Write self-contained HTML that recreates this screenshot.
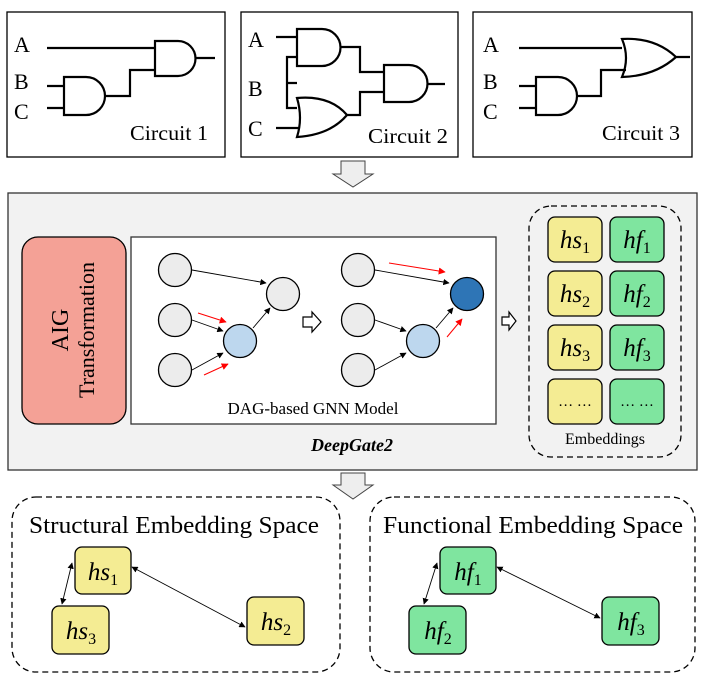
<!DOCTYPE html>
<html><head><meta charset="utf-8"><style>
html,body{margin:0;padding:0;background:#fff;}
svg{display:block;}
text{font-family:"Liberation Serif",serif;}
.m{font-family:"Liberation Serif",serif;font-style:italic;font-size:25px;}
</style></head><body>
<svg width="706" height="681" viewBox="0 0 706 681" xmlns="http://www.w3.org/2000/svg">
<defs>
<marker id="ab" viewBox="0 0 10 10" refX="9" refY="5" markerWidth="7" markerHeight="7" orient="auto-start-reverse"><path d="M0,0L10,5L0,10z" fill="#000"/></marker>
<marker id="ar" viewBox="0 0 10 10" refX="9" refY="5" markerWidth="7" markerHeight="7" orient="auto"><path d="M0,0L10,5L0,10z" fill="#f00"/></marker>
</defs>
<g fill="none" stroke="#000" stroke-width="1.3">
<rect x="7" y="12" width="218" height="145"/>
<rect x="241" y="12" width="217" height="145"/>
<rect x="473" y="12" width="219" height="145"/>
</g>
<g font-size="22" fill="#000">
<text x="14" y="52">A</text><text x="14" y="89">B</text><text x="14" y="119">C</text>
<text x="248" y="47">A</text><text x="248" y="96">B</text><text x="248" y="136">C</text>
<text x="483" y="52">A</text><text x="483" y="89">B</text><text x="483" y="119">C</text>
</g>
<g font-size="21" fill="#000">
<text x="130" y="140" textLength="78" lengthAdjust="spacingAndGlyphs">Circuit 1</text>
<text x="368" y="143" textLength="80" lengthAdjust="spacingAndGlyphs">Circuit 2</text>
<text x="602" y="140" textLength="78" lengthAdjust="spacingAndGlyphs">Circuit 3</text>
</g>
<g fill="none" stroke="#000" stroke-width="2.2">
<path d="M47 48H155M155 41V76H178A17.5 17.5 0 0 0 178 41Z M196 58H215"/>
<path d="M47 86H64M47 108H64M64 77V115H86A19 19 0 0 0 86 77Z M105 96H130V70H155"/>
<path d="M276 37H297M297 29V66H322A18.5 18.5 0 0 0 322 29Z M340 47H360V72H384M384 65V102H409A18.5 18.5 0 0 0 409 65Z M427 84H445"/>
<path d="M287 83H297M287 83V57H297M287 83V108H297"/>
<path d="M297 98Q330 95 347 115Q330 135 297 137Q303 118 297 98Z M347 115H360V92H384M276 128H299"/>
<path d="M519 48H622M622 39Q655 37 676 57Q655 76 622 77Q630 58 622 39Z M676 57H690"/>
<path d="M519 86H536M519 108H536M536 77V115H558A19 19 0 0 0 558 77Z M577 96H601V70H626"/>
</g>
<path d="M341 161H365V174H373L353 187L333 174H341Z" fill="#eee" stroke="#444" stroke-width="1"/>
<rect x="8" y="193" width="689" height="277" fill="#f2f2f2" stroke="#333" stroke-width="1.3"/>
<rect x="22" y="237" width="104" height="187" rx="16" fill="#f4a196" stroke="#000" stroke-width="1.3"/>
<text transform="translate(68 330) rotate(-90)" text-anchor="middle" font-size="24">AIG</text>
<text transform="translate(94 330) rotate(-90)" text-anchor="middle" font-size="22">Transformation</text>
<path d="M135 319H142V314L149 323L142 332V327H135Z" fill="#fff" stroke="#000" stroke-width="1.2"/>
<rect x="131" y="237" width="365" height="187" fill="#fff" stroke="#333" stroke-width="1.3"/>
<text x="313" y="414" text-anchor="middle" font-size="17">DAG-based GNN Model</text>
<path d="M303 317H312V312L321 322L312 332V327H303Z" fill="#fff" stroke="#000" stroke-width="1.2"/>
<path d="M502 317H509V312L516 321L509 330V325H502Z" fill="#fff" stroke="#000" stroke-width="1.2"/>
<g stroke="#000" stroke-width="0.9" fill="none" marker-end="url(#ab)">
<line x1="192" y1="270" x2="266" y2="283"/>
<line x1="192" y1="320" x2="223" y2="331"/>
<line x1="192" y1="370" x2="223" y2="353"/>
<line x1="253" y1="328" x2="270" y2="308"/>
<line x1="375" y1="270" x2="449" y2="283"/>
<line x1="375" y1="320" x2="406" y2="331"/>
<line x1="375" y1="370" x2="406" y2="353"/>
<line x1="436" y1="328" x2="453" y2="308"/>
</g>
<g stroke="#f00" stroke-width="1" marker-end="url(#ar)">
<line x1="198" y1="313" x2="226" y2="322"/>
<line x1="204" y1="375" x2="228" y2="364"/>
<line x1="389" y1="263" x2="445" y2="272"/>
<line x1="447" y1="337" x2="462" y2="319"/>
</g>
<g stroke="#000" stroke-width="1.3">
<circle cx="175" cy="270" r="16.5" fill="#ececec"/>
<circle cx="175" cy="320" r="16.5" fill="#ececec"/>
<circle cx="175" cy="370" r="16.5" fill="#ececec"/>
<circle cx="283" cy="294" r="16.5" fill="#ececec"/>
<circle cx="240" cy="341" r="16.5" fill="#bdd7ee"/>
<circle cx="358" cy="270" r="16.5" fill="#ececec"/>
<circle cx="358" cy="320" r="16.5" fill="#ececec"/>
<circle cx="358" cy="370" r="16.5" fill="#ececec"/>
<circle cx="467" cy="294" r="16.5" fill="#2e75b6"/>
<circle cx="423" cy="341" r="16.5" fill="#bdd7ee"/>
</g>
<text x="352" y="451" text-anchor="middle" font-size="18" font-weight="bold" font-style="italic">DeepGate2</text>
<rect x="529" y="206" width="152" height="251" rx="22" fill="none" stroke="#000" stroke-width="1.3" stroke-dasharray="6 4"/>
<g stroke="#000" stroke-width="1.3">
<rect x="548" y="217" width="54" height="45" rx="7" fill="#f4ec93"/>
<rect x="610" y="217" width="54" height="45" rx="7" fill="#7fe59f"/>
<rect x="548" y="271" width="54" height="45" rx="7" fill="#f4ec93"/>
<rect x="610" y="271" width="54" height="45" rx="7" fill="#7fe59f"/>
<rect x="548" y="325" width="54" height="45" rx="7" fill="#f4ec93"/>
<rect x="610" y="325" width="54" height="45" rx="7" fill="#7fe59f"/>
<rect x="548" y="379" width="54" height="45" rx="7" fill="#f4ec93"/>
<rect x="610" y="379" width="54" height="45" rx="7" fill="#7fe59f"/>
</g>
<g text-anchor="middle">
<text x="575" y="248" class="m">hs<tspan font-size="16" font-style="normal" dy="5">1</tspan></text>
<text x="637" y="248" class="m">hf<tspan font-size="16" font-style="normal" dy="5">1</tspan></text>
<text x="575" y="302" class="m">hs<tspan font-size="16" font-style="normal" dy="5">2</tspan></text>
<text x="637" y="302" class="m">hf<tspan font-size="16" font-style="normal" dy="5">2</tspan></text>
<text x="575" y="356" class="m">hs<tspan font-size="16" font-style="normal" dy="5">3</tspan></text>
<text x="637" y="356" class="m">hf<tspan font-size="16" font-style="normal" dy="5">3</tspan></text>
</g>
<text x="575" y="406" text-anchor="middle" font-size="15">… …</text>
<text x="637" y="406" text-anchor="middle" font-size="15">… …</text>
<text x="605" y="444" text-anchor="middle" font-size="16">Embeddings</text>
<path d="M341 473H365V485H373L353 499L333 485H341Z" fill="#eee" stroke="#444" stroke-width="1"/>
<rect x="12" y="497" width="328" height="175" rx="24" fill="none" stroke="#000" stroke-width="1.3" stroke-dasharray="6 4"/>
<rect x="370" y="497" width="325" height="175" rx="24" fill="none" stroke="#000" stroke-width="1.3" stroke-dasharray="6 4"/>
<text x="174" y="533" text-anchor="middle" font-size="24" textLength="290" lengthAdjust="spacingAndGlyphs">Structural Embedding Space</text>
<text x="533" y="533" text-anchor="middle" font-size="24" textLength="300" lengthAdjust="spacingAndGlyphs">Functional Embedding Space</text>
<g stroke="#000" stroke-width="0.9" marker-start="url(#ab)" marker-end="url(#ab)">
<line x1="72" y1="563" x2="62" y2="604"/>
<line x1="132" y1="567" x2="245" y2="627"/>
<line x1="437" y1="563" x2="424" y2="604"/>
<line x1="497" y1="567" x2="600" y2="618"/>
</g>
<g stroke="#000" stroke-width="1.3">
<rect x="75" y="547" width="56" height="47" rx="7" fill="#f4ec93"/>
<rect x="52" y="606" width="57" height="48" rx="7" fill="#f4ec93"/>
<rect x="247" y="597" width="57" height="48" rx="7" fill="#f4ec93"/>
<rect x="440" y="547" width="56" height="47" rx="7" fill="#7fe59f"/>
<rect x="409" y="606" width="57" height="48" rx="7" fill="#7fe59f"/>
<rect x="602" y="597" width="57" height="48" rx="7" fill="#7fe59f"/>
</g>
<g text-anchor="middle">
<text x="103" y="580" class="m">hs<tspan font-size="16" font-style="normal" dy="5">1</tspan></text>
<text x="81" y="639" class="m">hs<tspan font-size="16" font-style="normal" dy="5">3</tspan></text>
<text x="276" y="630" class="m">hs<tspan font-size="16" font-style="normal" dy="5">2</tspan></text>
<text x="468" y="580" class="m">hf<tspan font-size="16" font-style="normal" dy="5">1</tspan></text>
<text x="438" y="639" class="m">hf<tspan font-size="16" font-style="normal" dy="5">2</tspan></text>
<text x="631" y="630" class="m">hf<tspan font-size="16" font-style="normal" dy="5">3</tspan></text>
</g>
</svg>
</body></html>
